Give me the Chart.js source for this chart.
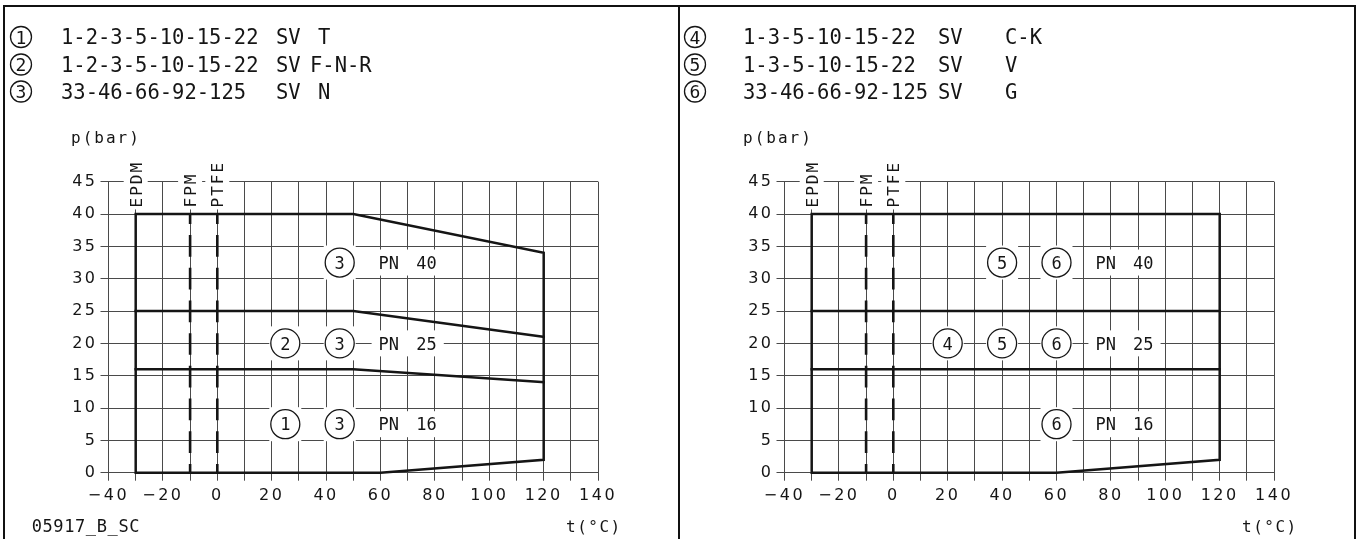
<!DOCTYPE html>
<html>
<head>
<meta charset="utf-8">
<script src="https://cdn.jsdelivr.net/npm/chart.js@4.4.1/dist/chart.umd.min.js"></script>
<style>
  html, body { margin: 0; padding: 0; background: #fff; }
  body { position: relative; width: 1360px; height: 539px; overflow: hidden; }
  canvas { position: absolute; top: 0; }
  .rule { position: absolute; background: #111; }
</style>
</head>
<body>
<canvas id="chart-left" width="680" height="539" style="left:0"></canvas>
<canvas id="chart-right" width="680" height="539" style="left:676px"></canvas>
<div class="rule" style="left:3px;top:5px;width:1353px;height:2px"></div>
<div class="rule" style="left:3px;top:5px;width:2px;height:534px"></div>
<div class="rule" style="left:678px;top:5px;width:2px;height:534px"></div>
<div class="rule" style="left:1354px;top:5px;width:2px;height:534px"></div>
<script>
// ---------------------------------------------------------
// Data (temperature in °C, pressure in bar)
// ---------------------------------------------------------

const tempTickLabels = [-40, -20, 0, 20, 40, 60, 80, 100, 120, 140];

// seal materials: lower temperature limit, drawn up to 40 bar
const materialNames = ["EPDM", "FPM", "PTFE"];
const materialMinTemp = [-30, -10, 0];
const materialTopPress = 40;

// left diagram
const leftOutlineTemp = [-30, -30, 50, 120, 120, 60, -30];
const leftOutlinePress = [0, 40, 40, 34, 2, 0, 0];
const leftPN25Temp = [-30, 50, 120];
const leftPN25Press = [25, 25, 21];
const leftPN16Temp = [-30, 50, 120];
const leftPN16Press = [16, 16, 14];

const leftMarkText = ["3", "2", "3", "1", "3"];
const leftMarkTemp = [45, 25, 45, 25, 45];
const leftMarkPress = [32.5, 20, 20, 7.5, 7.5];
const leftRatingText = ["PN 40", "PN 25", "PN 16"];
const leftRatingTemp = [70, 70, 70];
const leftRatingPress = [32.5, 20, 7.5];

const leftLegendNo = ["1", "2", "3"];
const leftLegendModels = ["1-2-3-5-10-15-22", "1-2-3-5-10-15-22", "33-46-66-92-125"];
const leftLegendType = ["SV", "SV", "SV"];
const leftLegendVersion = ["T", "F-N-R", "N"];

// right diagram
const rightOutlineTemp = [-30, -30, 120, 120, 60, -30];
const rightOutlinePress = [0, 40, 40, 2, 0, 0];
const rightPN25Temp = [-30, 120];
const rightPN25Press = [25, 25];
const rightPN16Temp = [-30, 120];
const rightPN16Press = [16, 16];

const rightMarkText = ["5", "6", "4", "5", "6", "6"];
const rightMarkTemp = [40, 60, 20, 40, 60, 60];
const rightMarkPress = [32.5, 32.5, 20, 20, 20, 7.5];
const rightRatingText = ["PN 40", "PN 25", "PN 16"];
const rightRatingTemp = [85, 85, 85];
const rightRatingPress = [32.5, 20, 7.5];

const rightLegendNo = ["4", "5", "6"];
const rightLegendModels = ["1-3-5-10-15-22", "1-3-5-10-15-22", "33-46-66-92-125"];
const rightLegendType = ["SV", "SV", "SV"];
const rightLegendVersion = ["C-K", "V", "G"];

// ---------------------------------------------------------
// Styling
// ---------------------------------------------------------

const INK = "#151515";
const GRID = "#4a4a4a";
const MONO = "'DejaVu Sans Mono', monospace";
const SANS = "'DejaVu Sans', sans-serif";

const points = (temps, press) => temps.map((t, i) => ({ x: t, y: press[i] }));

const solidLine = (temps, press) => ({
  data: points(temps, press),
  showLine: true,
  borderColor: INK,
  borderWidth: 2.5,
  borderCapStyle: "square",
  borderJoinStyle: "miter",
  pointRadius: 0,
  fill: false,
  tension: 0,
  clip: false,
});

const dashedLine = (temp) => ({
  data: points([temp, temp], [materialTopPress, 0]),
  showLine: true,
  borderColor: INK,
  borderWidth: 2.6,
  borderDash: [21.7, 11],
  borderDashOffset: 11.7,
  pointRadius: 0,
  fill: false,
  clip: false,
});

const fmtTemp = (v) => (v < 0 ? "\u2212" + Math.abs(v) : String(v));

// tick labels in the drawing are widely spaced
const tickSpacing = {
  id: "tickSpacing",
  beforeDraw(chart) { chart.ctx.letterSpacing = "2.5px"; },
  beforeDatasetsDraw(chart) { chart.ctx.letterSpacing = "0px"; },
};

function panelArt(panel) {
  return {
    id: "panelArt",

    // knock-outs, circled numbers, PN ratings, material names
    beforeDatasetsDraw(chart) {
      const { ctx } = chart;
      const xs = chart.scales.x;
      const ys = chart.scales.y;
      ctx.save();
      ctx.letterSpacing = "0px";
      ctx.fillStyle = "#fff";

      panel.markTemp.forEach((t, i) => {
        const px = xs.getPixelForValue(t);
        const py = ys.getPixelForValue(panel.markPress[i]);
        ctx.fillRect(px - 16, py - 17, 32, 34);
      });

      ctx.font = "17px " + MONO;
      ctx.wordSpacing = "7px";
      panel.ratingText.forEach((txt, i) => {
        const px = xs.getPixelForValue(panel.ratingTemp[i]);
        const py = ys.getPixelForValue(panel.ratingPress[i]);
        const w = ctx.measureText(txt).width;
        ctx.fillRect(px - w / 2 - 7, py - 13, w + 14, 26);
      });
      ctx.wordSpacing = "0px";

      ctx.font = "16px " + MONO;
      ctx.letterSpacing = "2px";
      const matBottom = ys.getPixelForValue(materialTopPress) - 6.6;
      materialNames.forEach((name, i) => {
        const px = xs.getPixelForValue(materialMinTemp[i]);
        const w = ctx.measureText(name).width;
        ctx.fillRect(px - 12, matBottom - w - 2, 24, w + 4);
      });

      ctx.fillStyle = INK;
      ctx.strokeStyle = INK;
      ctx.textBaseline = "alphabetic";

      // vertical material names
      materialNames.forEach((name, i) => {
        const px = xs.getPixelForValue(materialMinTemp[i]);
        ctx.save();
        ctx.translate(px, matBottom);
        ctx.rotate(-Math.PI / 2);
        ctx.textAlign = "left";
        ctx.fillText(name, 0, 16 * 0.3645);
        ctx.restore();
      });

      ctx.letterSpacing = "0px";
      ctx.lineWidth = 1.3;
      ctx.textAlign = "center";
      ctx.font = "17px " + MONO;
      panel.markText.forEach((txt, i) => {
        const px = xs.getPixelForValue(panel.markTemp[i]);
        const py = ys.getPixelForValue(panel.markPress[i]);
        ctx.beginPath();
        ctx.arc(px, py, 14.5, 0, Math.PI * 2);
        ctx.stroke();
        ctx.fillText(txt, px, py + 17 * 0.3645);
      });

      ctx.wordSpacing = "7px";
      panel.ratingText.forEach((txt, i) => {
        const px = xs.getPixelForValue(panel.ratingTemp[i]);
        const py = ys.getPixelForValue(panel.ratingPress[i]);
        ctx.fillText(txt, px, py + 17 * 0.3645);
      });
      ctx.restore();
    },

    // legend rows above the grid, axis units, drawing number
    afterDraw(chart) {
      const { ctx } = chart;
      const h = panel.head;
      ctx.save();
      ctx.fillStyle = INK;
      ctx.strokeStyle = INK;
      ctx.textBaseline = "alphabetic";
      ctx.letterSpacing = "0px";
      ctx.lineWidth = 1.3;

      const rowY = [37, 64.5, 91.5];
      const size = 20.5;
      rowY.forEach((cy, i) => {
        ctx.beginPath();
        ctx.arc(h.circleX, cy, 10.5, 0, Math.PI * 2);
        ctx.stroke();
        ctx.font = "18px " + MONO;
        ctx.textAlign = "center";
        ctx.fillText(panel.legendNo[i], h.circleX, cy + 18 * 0.3645);
        ctx.font = size + "px " + MONO;
        ctx.textAlign = "left";
        const base = cy + size * 0.3645;
        ctx.fillText(panel.legendModels[i], h.modelX, base);
        ctx.fillText(panel.legendType[i], h.typeX, base);
        ctx.fillText(panel.legendVersion[i], h.versionX[i], base);
      });

      ctx.font = "16px " + MONO;
      ctx.letterSpacing = "2px";
      ctx.fillText("p(bar)", h.unitX, 143);

      ctx.letterSpacing = "1.5px";
      ctx.fillText("t(\u00B0C)", h.tempUnitX, 532);

      if (h.code) {
        ctx.font = "17px " + MONO;
        ctx.letterSpacing = "0.6px";
        ctx.fillText(h.code, 31.7, 531.5);
      }
      ctx.restore();
    },
  };
}

function makeChart(canvasId, panel) {
  const datasets = [
    solidLine(panel.outlineTemp, panel.outlinePress),
    solidLine(panel.pn25Temp, panel.pn25Press),
    solidLine(panel.pn16Temp, panel.pn16Press),
    dashedLine(materialMinTemp[1]),
    dashedLine(materialMinTemp[2]),
  ];

  const tickFont = { family: SANS, size: 16 };

  return new Chart(document.getElementById(canvasId), {
    type: "scatter",
    data: { datasets },
    options: {
      responsive: false,
      animation: false,
      events: [],
      layout: {
        autoPadding: false,
        padding: { left: 48.5, right: 81.9, top: 181.7, bottom: 26.3 },
      },
      plugins: {
        legend: { display: false },
        tooltip: { enabled: false },
      },
      scales: {
        x: {
          type: "linear",
          min: -40,
          max: 140,
          afterFit(scale) {
            scale.height = 40;
            scale.paddingLeft = 0;
            scale.paddingRight = 0;
          },
          ticks: {
            stepSize: 10,
            autoSkip: false,
            maxRotation: 0,
            padding: 6,
            color: INK,
            font: tickFont,
            callback: (v) => (tempTickLabels.includes(v) ? fmtTemp(v) : ""),
          },
          grid: { color: GRID, lineWidth: 1, tickLength: 8 },
          border: { color: GRID, width: 1 },
        },
        y: {
          type: "linear",
          min: 0,
          max: 45,
          afterFit(scale) {
            scale.width = 60;
            scale.paddingTop = 0;
            scale.paddingBottom = 0;
          },
          ticks: {
            stepSize: 5,
            padding: 3,
            color: INK,
            font: tickFont,
          },
          grid: { color: GRID, lineWidth: 1, tickLength: 8 },
          border: { color: GRID, width: 1 },
        },
      },
    },
    plugins: [tickSpacing, panelArt(panel)],
  });
}

makeChart("chart-left", {
  outlineTemp: leftOutlineTemp, outlinePress: leftOutlinePress,
  pn25Temp: leftPN25Temp, pn25Press: leftPN25Press,
  pn16Temp: leftPN16Temp, pn16Press: leftPN16Press,
  markText: leftMarkText, markTemp: leftMarkTemp, markPress: leftMarkPress,
  ratingText: leftRatingText, ratingTemp: leftRatingTemp, ratingPress: leftRatingPress,
  legendNo: leftLegendNo, legendModels: leftLegendModels,
  legendType: leftLegendType, legendVersion: leftLegendVersion,
  head: { circleX: 21, modelX: 61, typeX: 276, versionX: [318, 310, 318], unitX: 71, tempUnitX: 566, code: "05917_B_SC" },
});

makeChart("chart-right", {
  outlineTemp: rightOutlineTemp, outlinePress: rightOutlinePress,
  pn25Temp: rightPN25Temp, pn25Press: rightPN25Press,
  pn16Temp: rightPN16Temp, pn16Press: rightPN16Press,
  markText: rightMarkText, markTemp: rightMarkTemp, markPress: rightMarkPress,
  ratingText: rightRatingText, ratingTemp: rightRatingTemp, ratingPress: rightRatingPress,
  legendNo: rightLegendNo, legendModels: rightLegendModels,
  legendType: rightLegendType, legendVersion: rightLegendVersion,
  head: { circleX: 19, modelX: 67, typeX: 262, versionX: [329, 329, 329], unitX: 67, tempUnitX: 566, code: null },
});
</script>
</body>
</html>
